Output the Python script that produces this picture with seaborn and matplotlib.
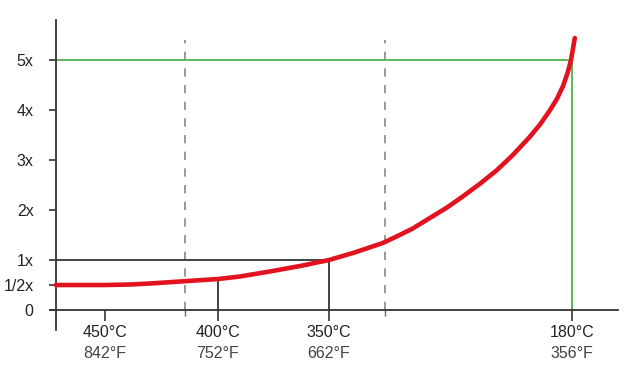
import matplotlib
matplotlib.use("Agg")
import matplotlib.pyplot as plt
import seaborn as sns
import pandas as pd

# temperature ticks (position on the scale, labels)
tick_pos = [9.0, 29.8, 50.2, 94.9]
celsius = ['450°C', '400°C', '350°C', '180°C']
fahrenheit = ['842°F', '752°F', '662°F', '356°F']
dashed_pos = [23.7, 60.5]

# relative factor curve
curve_x = [0, 4.4, 9.0, 13.6, 17.3, 22.8, 29.8, 33.8, 39.3, 44.9, 50.2,
           54.9, 60.1, 63.2, 65.6, 68.75, 71.9, 74.8, 77.9, 81.1, 84.0,
           87.1, 89.0, 90.8, 92.1, 93.2, 94.1, 94.7, 95.4]
curve_y = [0.50, 0.50, 0.50, 0.51, 0.53, 0.57, 0.62, 0.67, 0.77, 0.88, 1.00,
           1.15, 1.34, 1.50, 1.63, 1.84, 2.05, 2.27, 2.52, 2.80, 3.10,
           3.46, 3.71, 3.99, 4.22, 4.47, 4.75, 5.00, 5.44]

y_ticks = [0, 0.5, 1, 2, 3, 4, 5]
y_labels = ['0', '1/2x', '1x', '2x', '3x', '4x', '5x']

sns.set_style('white')
plt.rcParams['font.family'] = ['Liberation Sans', 'DejaVu Sans']

fig = plt.figure(figsize=(6.24, 3.71), dpi=100)
ax = fig.add_axes([0.080, 0.1105, 0.910, 0.8355])

df = pd.DataFrame({'x': curve_x, 'y': curve_y})

# reference lines
ax.vlines(dashed_pos, 0, 5.4, colors='#888888', linestyles=(0, (5, 5)), linewidth=1.2, zorder=1)
ax.hlines(5, 0, tick_pos[3], colors='#5cb85c', linewidth=1.4, zorder=2)
ax.vlines(tick_pos[3], 0, 5, colors='#5cb85c', linewidth=1.4, zorder=2)
ax.hlines(1, 0, tick_pos[2], colors='#333333', linewidth=1.3, zorder=2)
ax.vlines(tick_pos[2], 0, 1, colors='#333333', linewidth=1.3, zorder=2)
ax.vlines(tick_pos[1], 0, curve_y[curve_x.index(tick_pos[1])], colors='#333333', linewidth=1.3, zorder=2)

sns.lineplot(data=df, x='x', y='y', ax=ax, color='#e2121f', linewidth=3.3, zorder=3)

ax.set_xlim(-1.1, 103.3)
ax.set_ylim(-0.4, 5.8)
ax.spines['top'].set_visible(False)
ax.spines['right'].set_visible(False)
ax.spines['left'].set_position(('data', 0))
ax.spines['bottom'].set_position(('data', 0))
for s in ['left', 'bottom']:
    ax.spines[s].set_color('#333333')
    ax.spines[s].set_linewidth(1.3)

ax.set_yticks(y_ticks)
ax.set_yticklabels(y_labels)
ax.tick_params(axis='y', direction='out', length=5, width=1.2, color='#333333',
               pad=11, labelsize=11.5, labelcolor='#222222', left=True)
ax.set_xticks(tick_pos)
ax.set_xticks(dashed_pos, minor=True)
ax.set_xticklabels([])
ax.tick_params(axis='x', which='major', direction='out', length=8, width=1.2,
               color='#333333', bottom=True)
ax.tick_params(axis='x', which='minor', direction='out', length=4, width=1.0,
               color='#666666', bottom=True)

for xp, c, f in zip(tick_pos, celsius, fahrenheit):
    ax.text(xp, -0.44, c, ha='center', va='center', fontsize=11.5,
            color='#222222', clip_on=False)
    ax.text(xp, -0.86, f, ha='center', va='center', fontsize=11.5,
            color='#444444', clip_on=False)

ax.set_xlabel('')
ax.set_ylabel('')
ax.grid(False)

fig.savefig('out.png', dpi=100)
